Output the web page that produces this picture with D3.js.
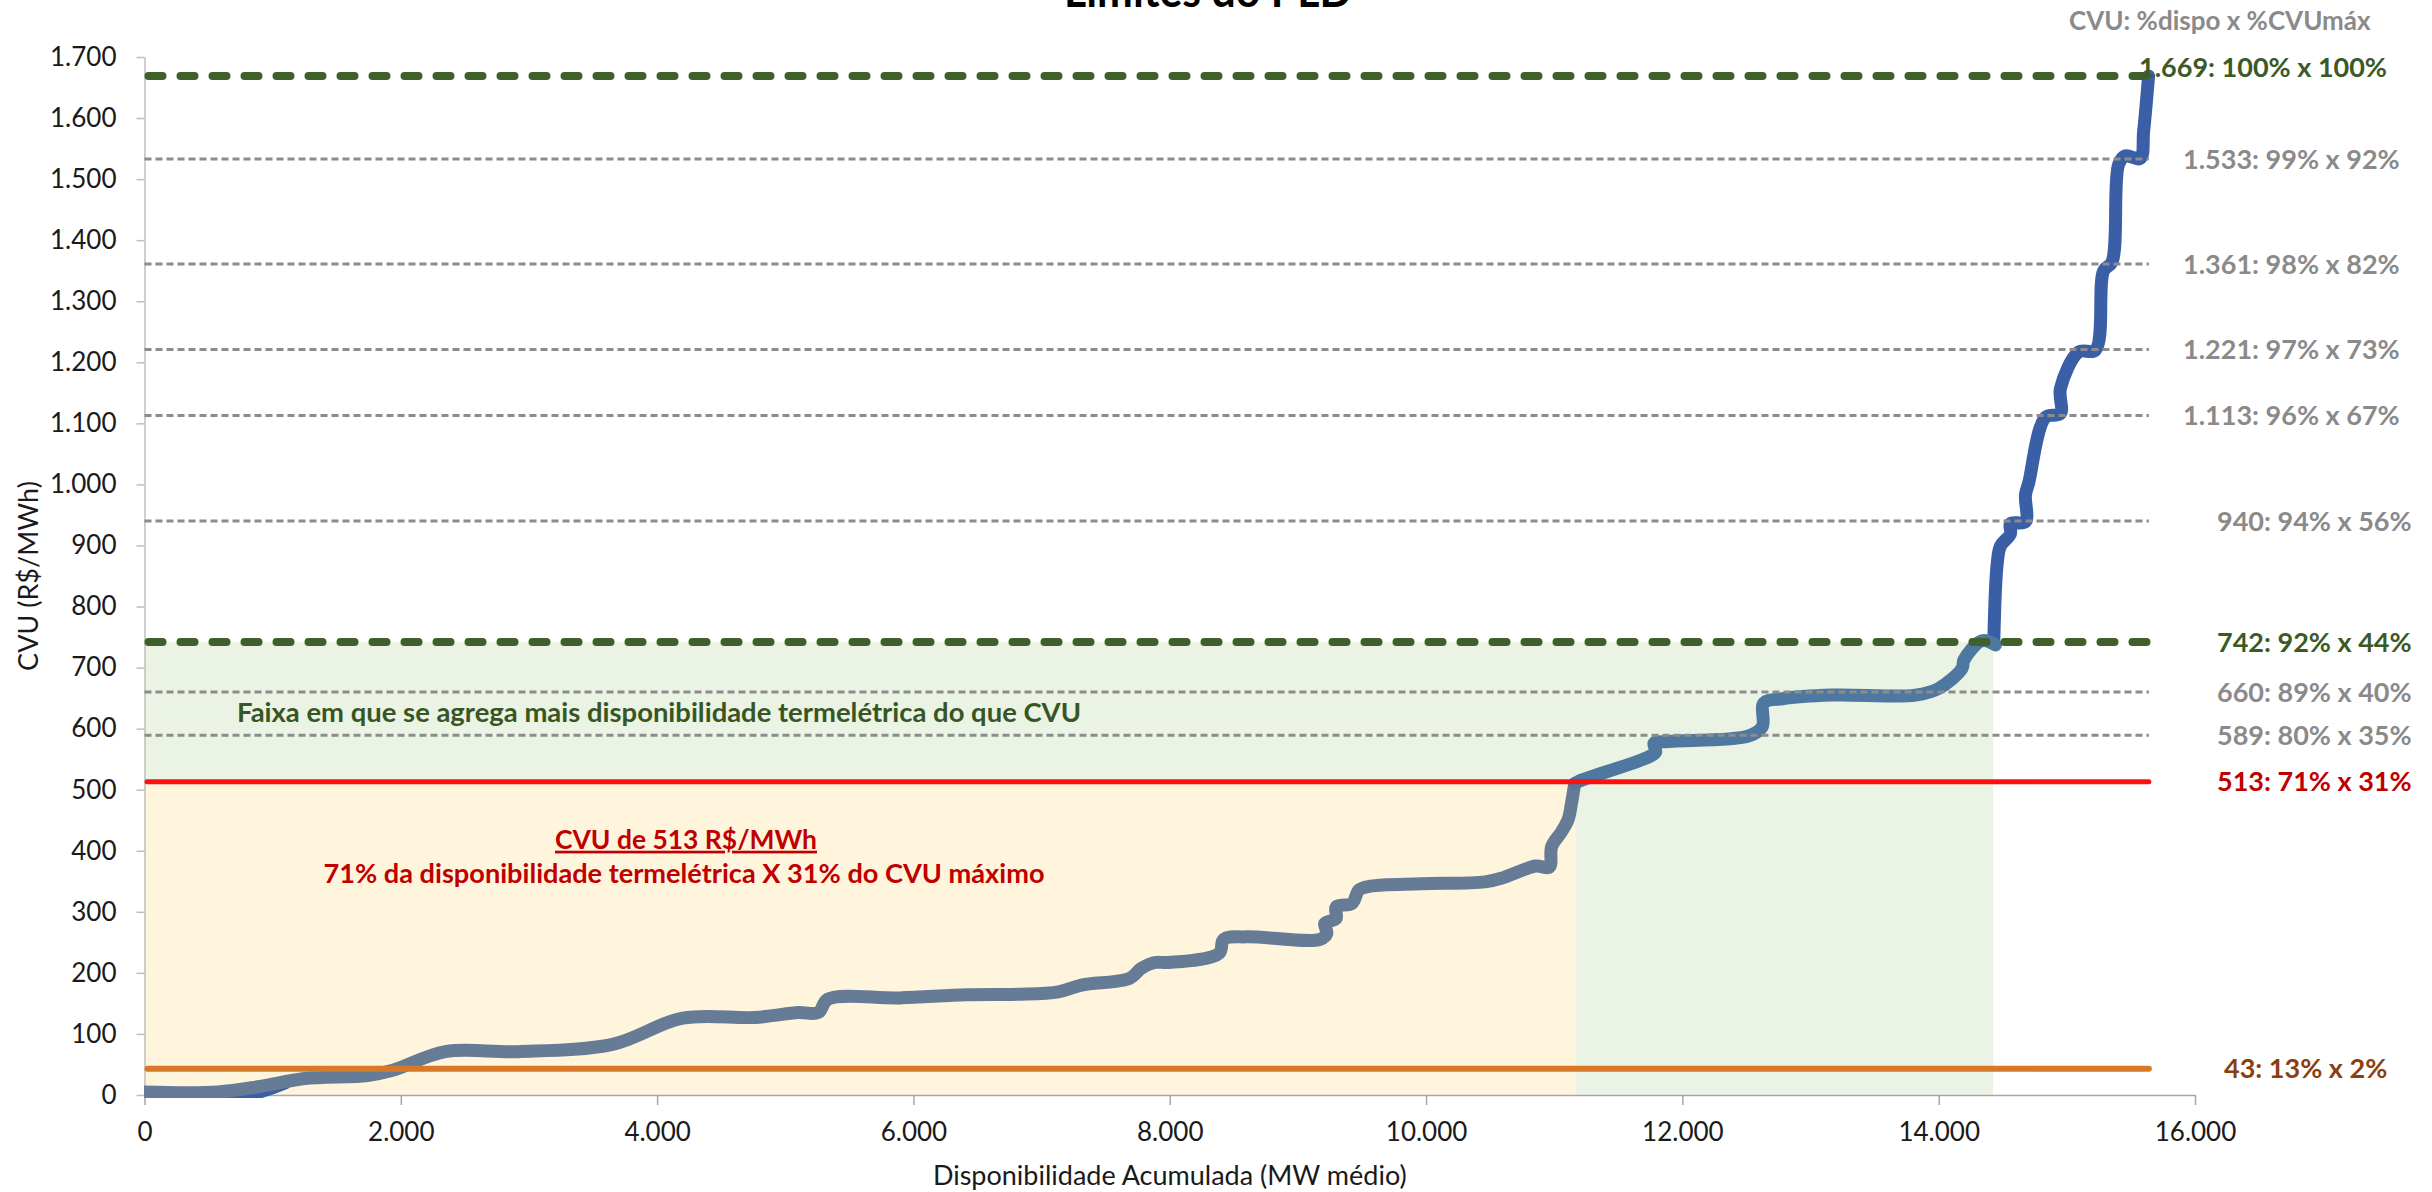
<!DOCTYPE html>
<html><head><meta charset="utf-8">
<script src="https://cdn.jsdelivr.net/npm/d3@7"></script>
<style>
html,body{margin:0;padding:0;background:#fff;overflow:hidden;}
svg{display:block;font-family:Lato,"Open Sans",sans-serif;}
</style></head><body>
<svg id="chart" width="2432" height="1192"></svg>
<script>
// ---------------- DATA ----------------
const chartTitle = "Limites do PLD";
const xAxisTitle = "Disponibilidade Acumulada (MW médio)";
const yAxisTitle = "CVU (R$/MWh)";
const labelHeader = "CVU: %dispo x %CVUmáx";

const xTicks = [0, 2000, 4000, 6000, 8000, 10000, 12000, 14000, 16000];
const xTickLabels = ["0", "2.000", "4.000", "6.000", "8.000", "10.000", "12.000", "14.000", "16.000"];
const yTicks = [0, 100, 200, 300, 400, 500, 600, 700, 800, 900, 1000, 1100, 1200, 1300, 1400, 1500, 1600, 1700];
const yTickLabels = ["0", "100", "200", "300", "400", "500", "600", "700", "800", "900", "1.000", "1.100", "1.200", "1.300", "1.400", "1.500", "1.600", "1.700"];

// horizontal reference levels (CVU R$/MWh) and their labels
const refLevels = [1669, 1533, 1361, 1221, 1113, 940, 742, 660, 589, 513, 43];
const refLabels = ["1.669: 100% x 100%", "1.533: 99% x 92%", "1.361: 98% x 82%", "1.221: 97% x 73%",
  "1.113: 96% x 67%", "940: 94% x 56%", "742: 92% x 44%", "660: 89% x 40%", "589: 80% x 35%",
  "513: 71% x 31%", "43: 13% x 2%"];
const refKinds = ["limit", "step", "step", "step", "step", "step", "limit", "step", "step", "reference", "floor"];
const refLineEnd = 15640; // MW

// shaded bands: [max MW, max CVU]
const bandAgrega = [14425, 742];
const bandReferencia = [11168, 513];

// accumulated availability curve: [MW, CVU]
const curveBase = [[0, 0], [790, 0], [1100, 20]];
const curveLow = [[0, 5], [570, 5], [900, 14], [1250, 27], [1742, 32], [1930, 40], [2347, 71], [2913, 71],
  [3651, 83], [4200, 126], [4766, 127], [5104, 135], [5257, 135], [5333, 157], [5892, 159], [6416, 164],
  [6809, 165], [7131, 169], [7311, 180], [7687, 191], [7776, 207], [7884, 217], [7991, 217], [8385, 232],
  [8421, 255], [8600, 259], [9173, 255], [9226, 265], [9209, 281], [9298, 289], [9298, 308], [9423, 314],
  [9477, 336], [9567, 342], [9960, 346], [10461, 349], [10604, 356], [10855, 375], [10962, 373],
  [10980, 407], [11060, 432], [11110, 452], [11135, 478], [11160, 510]];
const curveMid = [[11160, 510], [11194, 514], [11740, 554], [11792, 562], [11779, 576], [11895, 579],
  [12519, 588], [12623, 603], [12636, 642], [12779, 649], [13169, 655], [13819, 655], [14001, 666],
  [14183, 699], [14196, 712], [14338, 744], [14443, 737]];
const curveHigh = [[14430, 742], [14456, 869], [14482, 899], [14560, 919], [14560, 936], [14677, 939],
  [14677, 983], [14703, 1003], [14833, 1110], [14950, 1116], [14950, 1157], [15093, 1217], [15223, 1220],
  [15287, 1350], [15352, 1364], [15404, 1524], [15456, 1538], [15573, 1534], [15599, 1578], [15638, 1669]];

const noteBand = "Faixa em que se agrega mais disponibilidade termelétrica do que CVU";
const noteRefTitle = "CVU de 513 R$/MWh";
const noteRefText = "71% da disponibilidade termelétrica X 31% do CVU máximo";

// ---------------- DRAWING ----------------
const svg = d3.select("#chart");
const x = d3.scaleLinear().domain([0, 16000]).range([144.5, 2195]);
const y = d3.scaleLinear().domain([0, 1700]).range([1095, 57]);

svg.append("defs").append("clipPath").attr("id", "plotclip")
  .append("rect").attr("x", 144).attr("y", 40).attr("width", 2060).attr("height", 1058);

// bands
svg.append("rect").attr("x", x(0)).attr("y", y(bandAgrega[1]))
  .attr("width", x(bandAgrega[0]) - x(0)).attr("height", y(0) - y(bandAgrega[1]))
  .attr("fill", "#EBF3E4");
svg.append("rect").attr("x", x(0)).attr("y", y(bandReferencia[1]))
  .attr("width", x(bandReferencia[0]) - x(0)).attr("height", y(0) - y(bandReferencia[1]))
  .attr("fill", "#FFF5DC");

// axes
const yAxis = d3.axisLeft(y).tickValues(yTicks).tickSize(8).tickSizeOuter(0).tickPadding(20)
  .tickFormat((d, i) => yTickLabels[i]);
const gy = svg.append("g").attr("transform", `translate(${x(0)},0)`).call(yAxis);
gy.select(".domain").attr("stroke", "#BFBFBF").attr("stroke-width", 1.5);
gy.selectAll(".tick line").attr("stroke", "#BFBFBF").attr("stroke-width", 1.5);
gy.selectAll(".tick text").attr("font-size", 26).attr("fill", "#1a1a1a").attr("font-family", "Lato");

const xAxis = d3.axisBottom(x).tickValues(xTicks).tickSize(10).tickSizeOuter(0).tickPadding(18)
  .tickFormat((d, i) => xTickLabels[i]);
const gx = svg.append("g").attr("transform", `translate(0,${y(0)})`).call(xAxis);
gx.select(".domain").attr("stroke", "#A6A6A6").attr("stroke-width", 1.5);
gx.selectAll(".tick line").attr("stroke", "#A6A6A6").attr("stroke-width", 1.5);
gx.selectAll(".tick text").attr("font-size", 26).attr("fill", "#1a1a1a").attr("font-family", "Lato");

// curves (smoothed like the spreadsheet line)
const line = d3.line().x(d => x(d[0])).y(d => y(d[1])).curve(d3.curveCatmullRom.alpha(0.5));
const gc = svg.append("g").attr("clip-path", "url(#plotclip)");
const curveStyle = [
  [curveBase, "#3A5FA6"],
  [curveHigh, "#3A5FA6"],
  [curveLow, "#657B96"],
  [curveMid, "#4F78A0"]
];
curveStyle.forEach(([pts, col]) => {
  gc.append("path").attr("d", line(pts)).attr("fill", "none").attr("stroke", col)
    .attr("stroke-width", 13).attr("stroke-linejoin", "round").attr("stroke-linecap", "round");
});

// reference lines
const kindStyle = {
  limit: { stroke: "#3F5F2B", width: 8, dash: "14,18", cap: "round", label: "#3B5A26" },
  step: { stroke: "#8C8C8C", width: 3, dash: "7,4", cap: "butt", label: "#8A8A8A" },
  reference: { stroke: "#FF1010", width: 5, dash: null, cap: "round", label: "#C00000" },
  floor: { stroke: "#D8792A", width: 6, dash: null, cap: "round", label: "#8B3F10" }
};
const order = refLevels.map((v, i) => i).sort((a, b) => {
  const rank = { step: 0, floor: 1, reference: 2, limit: 3 };
  return rank[refKinds[a]] - rank[refKinds[b]];
});
order.forEach(i => {
  const s = kindStyle[refKinds[i]];
  svg.append("line").attr("x1", x(0) + (s.cap === "round" ? s.width / 2 : 0)).attr("x2", x(refLineEnd))
    .attr("y1", y(refLevels[i])).attr("y2", y(refLevels[i]))
    .attr("stroke", s.stroke).attr("stroke-width", s.width)
    .attr("stroke-dasharray", s.dash).attr("stroke-linecap", s.cap);
});

// right-hand labels
function labelX(v) {
  if (v >= 1600) return 2139;
  if (v >= 1000) return 2183;
  if (v < 100) return 2224;
  return 2217;
}
refLevels.forEach((v, i) => {
  const s = kindStyle[refKinds[i]];
  svg.append("text").attr("x", labelX(v)).attr("y", y(v) + (v >= 1600 ? -9 : 0))
    .attr("dy", "0.36em").attr("font-size", 27).attr("font-weight", 700)
    .attr("fill", s.label).text(refLabels[i]);
});
svg.append("text").attr("x", 2069).attr("y", 21).attr("dy", "0.36em")
  .attr("font-size", 26).attr("font-weight", 700).attr("fill", "#8A8A8A").text(labelHeader);

// title (cut at top like the reference)
svg.append("text").attr("x", 1208).attr("y", 7).attr("text-anchor", "middle")
  .attr("font-size", 46).attr("font-weight", 700).attr("fill", "#000")
  .attr("textLength", 288).attr("lengthAdjust", "spacingAndGlyphs").text(chartTitle);

// axis titles
svg.append("text").attr("transform", `translate(28,${(y(0) + y(1700)) / 2}) rotate(-90)`)
  .attr("text-anchor", "middle").attr("dy", "0.36em").attr("font-size", 27).attr("fill", "#1a1a1a")
  .text(yAxisTitle);
svg.append("text").attr("x", (x(0) + x(16000)) / 2).attr("y", 1175).attr("dy", "0.36em")
  .attr("text-anchor", "middle").attr("font-size", 27).attr("fill", "#1a1a1a").text(xAxisTitle);

// annotations
svg.append("text").attr("x", 237).attr("y", 712).attr("dy", "0.36em")
  .attr("font-size", 27).attr("font-weight", 700).attr("fill", "#375623")
  .attr("textLength", 844).attr("lengthAdjust", "spacingAndGlyphs").text(noteBand);
svg.append("text").attr("x", 686).attr("y", 839).attr("dy", "0.36em").attr("text-anchor", "middle")
  .attr("font-size", 27).attr("font-weight", 700).attr("fill", "#C00000")
  .style("text-decoration", "underline")
  .attr("textLength", 262).attr("lengthAdjust", "spacingAndGlyphs").text(noteRefTitle);
svg.append("text").attr("x", 684).attr("y", 873).attr("dy", "0.36em").attr("text-anchor", "middle")
  .attr("font-size", 27).attr("font-weight", 700).attr("fill", "#C00000")
  .attr("textLength", 721).attr("lengthAdjust", "spacingAndGlyphs").text(noteRefText);
</script>
</body></html>
